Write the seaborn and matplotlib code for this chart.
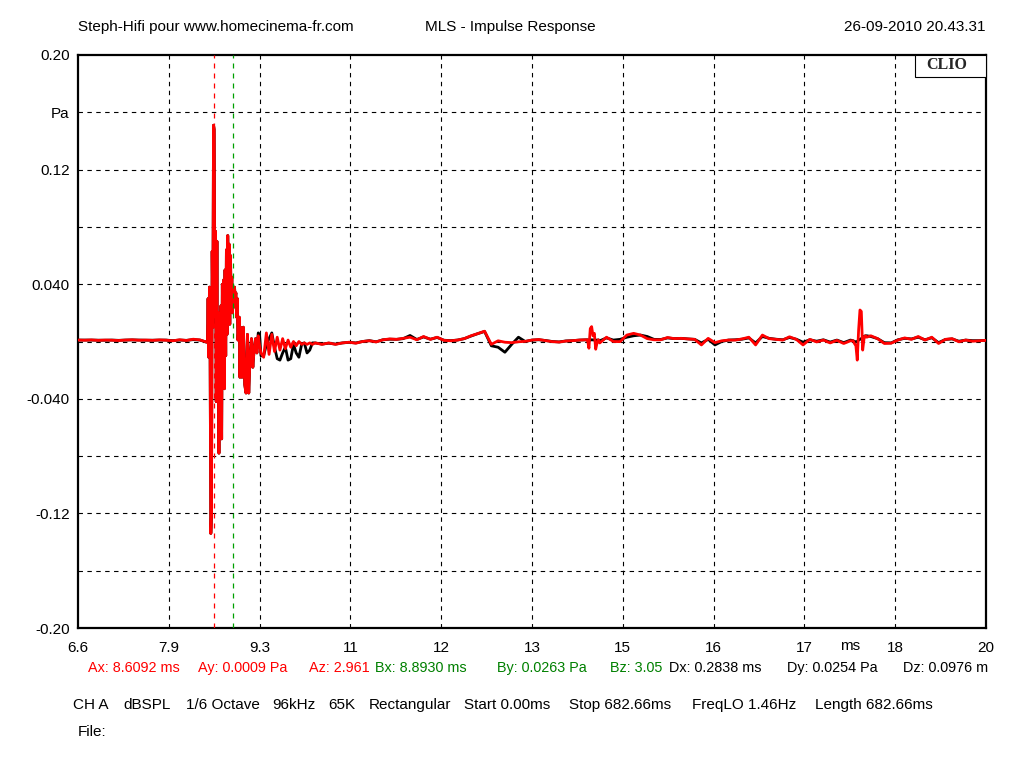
import numpy as np
import pandas as pd
import matplotlib
matplotlib.use("Agg")
import matplotlib.pyplot as plt
from matplotlib.patches import Rectangle
import seaborn as sns

# ---------------- data (time in ms, pressure in Pa) ----------------
t_pre = np.arange(66, 85) / 10            # 6.6 .. 8.4
t_imp = np.arange(850, 901) / 100         # 8.50 .. 9.00
t_dec1 = np.arange(902, 931, 2) / 100     # 9.02 .. 9.30
t_dec2 = np.arange(934, 1007, 4) / 100    # 9.34 .. 10.06
t_mid = np.arange(101, 142) / 10          # 10.1 .. 14.1
t_refl1 = np.arange(1412, 1429, 2) / 100  # 14.12 .. 14.28
t_late = np.arange(143, 181) / 10         # 14.3 .. 18.0
t_refl2 = np.arange(1804, 1825, 2) / 100  # 18.04 .. 18.24
t_tail = np.arange(183, 201) / 10         # 18.3 .. 20.0

red_pre = [0.0010, 0.0009, 0.0011, 0.0008, 0.0010, 0.0009, 0.0007, 0.0010, 0.0012, 0.0009,
           0.0010, 0.0008, 0.0011, 0.0009, 0.0005, 0.0012, 0.0007, 0.0016, 0.0011]
black_pre = [0.0010, 0.0010, 0.0010, 0.0009, 0.0009, 0.0010, 0.0008, 0.0010, 0.0011, 0.0010,
             0.0009, 0.0009, 0.0010, 0.0010, 0.0006, 0.0010, 0.0008, 0.0013, 0.0010]

red_imp = [-0.0005, 0.0003, 0.030, -0.011, 0.038, -0.012, -0.134, -0.120, 0.063, 0.010,
           0.151, 0.148, 0.020, 0.077, -0.042, 0.070, -0.040, 0.020, -0.078, 0.018,
           -0.060, 0.025, -0.068, 0.040, -0.030, 0.043, -0.033, 0.050, -0.010, 0.064,
           0.005, 0.074, 0.022, 0.068, 0.012, 0.060, 0.028, 0.045, 0.020, 0.035,
           0.024, 0.038, 0.030, 0.034, 0.017, 0.030, 0.001, 0.008, 0.017, -0.025,
           0.010]
black_imp = list(red_imp)

red_dec1 = [-0.025, 0.010, -0.030, -0.036, 0.005, -0.036, -0.010, 0.002, -0.018, -0.005,
            0.002, -0.008, 0.004, -0.003, -0.008]
black_dec1 = [-0.025, 0.010, -0.030, -0.036, 0.005, -0.036, -0.010, 0.002, -0.018, -0.005,
              0.002, -0.008, 0.006, 0.005, -0.010]

red_dec2 = [-0.011, 0.006, -0.009, 0.005, -0.007, 0.003, -0.006, 0.002, -0.005, 0.001,
            -0.004, 0.000, -0.003, 0.000, -0.002, -0.001, -0.002, -0.001, -0.002]
black_dec2 = [-0.010, -0.002, 0.002, 0.006, -0.004, -0.012, -0.013, -0.008, -0.004, -0.013,
              -0.012, -0.002, -0.008, -0.011, -0.002, -0.001, -0.008, -0.006, -0.001]

red_mid = [-0.0010, -0.0020, -0.0010, -0.0020, -0.0010, -0.0005, -0.0012, 0.0000, 0.0005, -0.0003,
           0.0012, 0.0018, 0.0015, 0.0022, 0.0030, 0.0012, 0.0035, 0.0015, 0.0030, 0.0008,
           0.0005, 0.0010, 0.0020, 0.0040, 0.0055, 0.0072, -0.0020, 0.0005, -0.0005, -0.0008,
           -0.0002, 0.0001, 0.0010, 0.0014, 0.0006, -0.0001, -0.0004, 0.0003, 0.0006, 0.0010,
           0.0012]
black_mid = [-0.0010, -0.0018, -0.0012, -0.0018, -0.0010, -0.0006, -0.0010, 0.0000, 0.0006, -0.0002,
             0.0012, 0.0016, 0.0015, 0.0020, 0.0042, 0.0014, 0.0032, 0.0016, 0.0028, 0.0009,
             0.0006, 0.0010, 0.0020, 0.0038, 0.0055, 0.0070, -0.0030, -0.0040, -0.0075, -0.0020,
             0.0030, 0.0000, 0.0010, 0.0012, 0.0007, 0.0000, -0.0003, 0.0004, 0.0006, 0.0010,
             0.0012]

red_refl1 = [0.0010, -0.0047, 0.0090, 0.0104, 0.0040, 0.0057, -0.0054, -0.0010, 0.0012]
black_refl1 = [0.0012, 0.0010, 0.0010, 0.0012, 0.0011, 0.0010, 0.0009, 0.0010, 0.0011]

red_late = [-0.0010, 0.0030, 0.0000, -0.0001, 0.0045, 0.0057, 0.0045, 0.0020, 0.0012, 0.0012,
            0.0028, 0.0020, 0.0022, 0.0018, 0.0015, -0.0024, 0.0022, -0.0008, 0.0005, 0.0010,
            0.0010, 0.0018, 0.0030, -0.0024, 0.0045, 0.0020, 0.0015, 0.0010, 0.0033, 0.0015,
            -0.0024, 0.0015, -0.0003, 0.0010, -0.0010, 0.0008, -0.0014, 0.0005]
black_late = [0.0005, 0.0025, 0.0010, 0.0015, 0.0030, 0.0040, 0.0045, 0.0035, 0.0015, 0.0014,
              0.0025, 0.0020, 0.0022, 0.0018, 0.0015, -0.0010, 0.0015, -0.0024, 0.0000, 0.0010,
              0.0012, 0.0016, 0.0025, -0.0010, 0.0035, 0.0022, 0.0016, 0.0012, 0.0028, 0.0016,
              -0.0005, 0.0012, 0.0002, 0.0012, -0.0004, 0.0010, -0.0008, 0.0010]

red_refl2 = [0.0005, -0.0015, -0.0030, -0.0130, 0.0080, 0.0220, 0.0210, -0.0060, 0.0020, 0.0040, 0.0030]
black_refl2 = [0.0005, 0.0000, -0.0005, 0.0000, 0.0010, 0.0015, 0.0020, 0.0030, 0.0035, 0.0040, 0.0040]

red_tail = [0.0040, 0.0020, -0.0014, -0.0012, 0.0010, 0.0025, 0.0015, 0.0035, 0.0010, 0.0030,
            -0.0014, 0.0015, 0.0020, -0.0002, 0.0010, 0.0002, 0.0005, 0.0008]
black_tail = [0.0035, 0.0020, -0.0008, -0.0010, 0.0012, 0.0022, 0.0018, 0.0030, 0.0012, 0.0026,
              -0.0008, 0.0014, 0.0018, 0.0002, 0.0010, 0.0006, 0.0006, 0.0008]

x_tick_labels = ["6.6", "7.9", "9.3", "11", "12", "13", "15", "16", "17", "18", "20"]
y_tick_labels = ["-0.20", "", "-0.12", "", "-0.040", "", "0.040", "", "0.12", "Pa", "0.20"]

cursor_a_ms = 8.6092
cursor_b_ms = 8.8930

cursor_texts = [("Ax: 8.6092 ms", 88, "#ff0000"), ("Ay: 0.0009 Pa", 198, "#ff0000"),
                ("Az: 2.961", 309, "#ff0000"), ("Bx: 8.8930 ms", 375, "#008000"),
                ("By: 0.0263 Pa", 497, "#008000"), ("Bz: 3.05", 610, "#008000"),
                ("Dx: 0.2838 ms", 669, "black"), ("Dy: 0.0254 Pa", 787, "black"),
                ("Dz: 0.0976 m", 903, "black")]
settings_texts = [("CH A", 73), ("dBSPL", 123), ("1/6 Octave", 186), ("96kHz", 272),
                  ("65K", 328), ("Rectangular", 369), ("Start 0.00ms", 464),
                  ("Stop 682.66ms", 569), ("FreqLO 1.46Hz", 692), ("Length 682.66ms", 815)]

# ---------------- assemble ----------------
time_ms = np.concatenate([t_pre, t_imp, t_dec1, t_dec2, t_mid, t_refl1, t_late, t_refl2, t_tail])
red = np.concatenate([red_pre, red_imp, red_dec1, red_dec2, red_mid, red_refl1, red_late, red_refl2, red_tail])
black = np.concatenate([black_pre, black_imp, black_dec1, black_dec2, black_mid, black_refl1,
                        black_late, black_refl2, black_tail])
df = pd.DataFrame({"t": time_ms, "red": red, "black": black})

sns.set_theme(style="white")
plt.rcParams["font.family"] = ["Liberation Sans", "DejaVu Sans"]

W, H = 1024, 768
fig = plt.figure(figsize=(W / 100, H / 100), dpi=100)
L, R, T, B = 78, 986, 55, 628
ax = fig.add_axes([L / W, 1 - B / H, (R - L) / W, (B - T) / H])
ax.set_facecolor("white")

# grid
xt = np.linspace(6.6, 20, 11)
yt = np.linspace(-0.2, 0.2, 11)
for x in xt[1:-1]:
    ax.axvline(x, color="black", lw=0.8, ls=(0, (4, 4)), zorder=1)
for y in yt[1:-1]:
    ax.axhline(y, color="black", lw=0.8, ls=(0, (4, 4)), zorder=1)

sns.lineplot(data=df, x="t", y="black", color="black", lw=2.0, sort=False,
             estimator=None, ax=ax, zorder=3)
sns.lineplot(data=df, x="t", y="red", color="#ff0000", lw=2.0, sort=False,
             estimator=None, ax=ax, zorder=4)

ax.axvline(cursor_a_ms, color="#ff0000", lw=0.9, ls=(0, (4, 4)), zorder=5)
ax.axvline(cursor_b_ms, color="#00a000", lw=0.9, ls=(0, (4, 4)), zorder=5)

ax.set_xlim(6.6, 20)
ax.set_ylim(-0.2, 0.2)
ax.set_xticks(xt)
ax.set_xticklabels(x_tick_labels)
ax.set_yticks(yt)
ax.set_yticklabels(y_tick_labels)
ax.set_xlabel("")
ax.set_ylabel("")
ax.tick_params(axis="both", length=0, labelsize=11, colors="black")
ax.tick_params(axis="x", pad=9)
ax.tick_params(axis="y", pad=6)
for s in ax.spines.values():
    s.set_visible(True)
    s.set_color("black")
    s.set_linewidth(1.6)

# CLIO box
ax.add_patch(Rectangle(((915 - L) / (R - L), (B - 77) / (B - T)), (R - 915) / (R - L), 22 / (B - T),
                       transform=ax.transAxes, facecolor="white", edgecolor="black", lw=0.8,
                       zorder=6, clip_on=False))
ax.text((947 - L) / (R - L), (B - 65) / (B - T), "CLIO", transform=ax.transAxes,
        ha="center", va="center", fontsize=11.5, fontweight="bold",
        family=["Liberation Serif", "DejaVu Serif"], zorder=7)


def ftext(x, y, s, color="black", ha="left", size=11):
    fig.text(x / W, 1 - y / H, s, color=color, ha=ha, va="center", fontsize=size)


ftext(78, 27, "Steph-Hifi pour www.homecinema-fr.com")
ftext(425, 27, "MLS - Impulse Response")
ftext(985, 27, "26-09-2010 20.43.31", ha="right")
ftext(850, 646, "ms", ha="center")

for s, x, c in cursor_texts:
    ftext(x, 668, s, c, size=10.4)
for s, x in settings_texts:
    ftext(x, 705, s)
ftext(78, 732, "File:")

fig.savefig("out.png", dpi=100, facecolor="white")
